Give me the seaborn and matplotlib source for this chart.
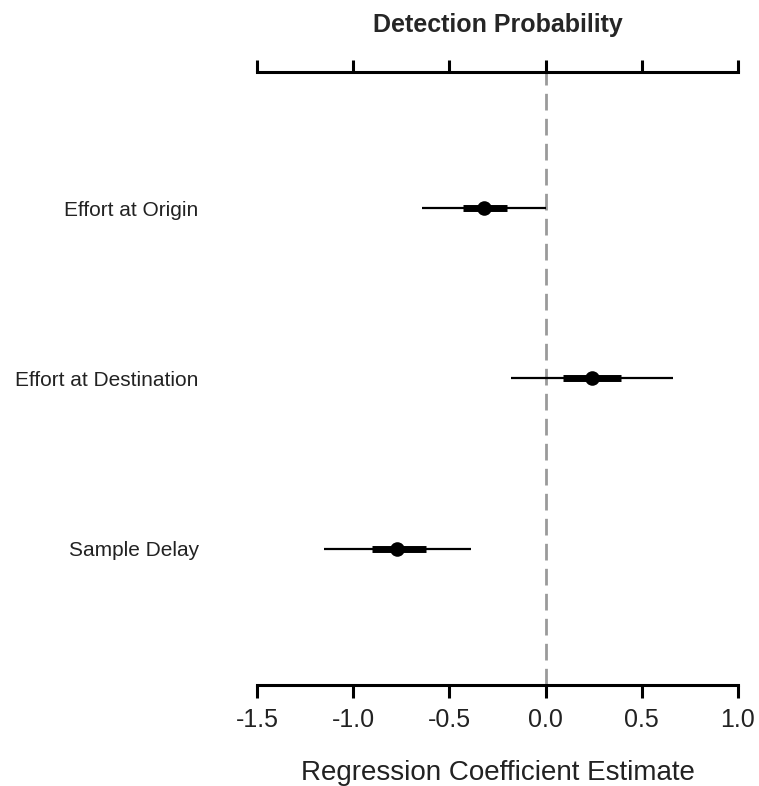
import matplotlib
matplotlib.use("Agg")
import matplotlib.pyplot as plt
import seaborn as sns
import pandas as pd

# Coefficient estimates with 95% (thin) and 50% (thick) intervals
predictors = ["Effort at Origin", "Effort at Destination", "Sample Delay"]
estimate = [-0.32, 0.24, -0.77]
lower95 = [-0.64, -0.18, -1.15]
upper95 = [0.00, 0.66, -0.39]
lower50 = [-0.43, 0.09, -0.90]
upper50 = [-0.20, 0.39, -0.62]
x_ticks = [-1.5, -1.0, -0.5, 0.0, 0.5, 1.0]
x_tick_labels = ["-1.5", "-1.0", "-0.5", "0.0", "0.5", "1.0"]

df = pd.DataFrame({
    "predictor": predictors,
    "estimate": estimate,
    "lo95": lower95, "hi95": upper95,
    "lo50": lower50, "hi50": upper50,
})

sns.set_style("white")
plt.rcParams["font.family"] = ["Liberation Sans", "DejaVu Sans"]

fig = plt.figure(figsize=(7.59, 7.86), dpi=100)
ax = fig.add_axes([257 / 759, 1 - 685 / 786, 481 / 759, 613 / 786])

ypos = list(range(len(predictors)))

# reference line at zero
ax.axvline(0, color="#9a9a9a", lw=2.0, dashes=(6, 3), zorder=0)

ax.hlines(ypos, df["lo95"], df["hi95"], color="black", lw=1.6, zorder=2)
ax.hlines(ypos, df["lo50"], df["hi50"], color="black", lw=5.0, zorder=3)
sns.scatterplot(data=df, x="estimate", y="predictor", ax=ax, color="black",
                s=110, edgecolor="black", linewidth=0, zorder=4, legend=False)

ax.set_xlim(-1.5, 1.0)
ax.set_ylim(2.8, -0.8)

for side in ["left", "right"]:
    ax.spines[side].set_visible(False)
for side in ["top", "bottom"]:
    ax.spines[side].set_visible(True)
    ax.spines[side].set_linewidth(2.2)
    ax.spines[side].set_color("black")

ax.set_xticks(x_ticks)
ax.set_xticklabels(x_tick_labels, fontsize=18, color="#222222")
ax.tick_params(axis="x", which="both", direction="out", length=9, width=2.2,
               color="black", top=True, bottom=True, labeltop=False,
               labelbottom=True, pad=7.5)

ax.set_yticks(ypos)
ax.set_yticklabels(predictors, fontsize=15, color="#222222")
ax.tick_params(axis="y", length=0, pad=42, left=False)

ax.set_xlabel("Regression Coefficient Estimate", fontsize=20, color="#222222",
              labelpad=20)
ax.set_ylabel("")
ax.set_title("Detection Probability", fontsize=18, fontweight="bold", pad=29)

fig.savefig("out.png", dpi=100)
